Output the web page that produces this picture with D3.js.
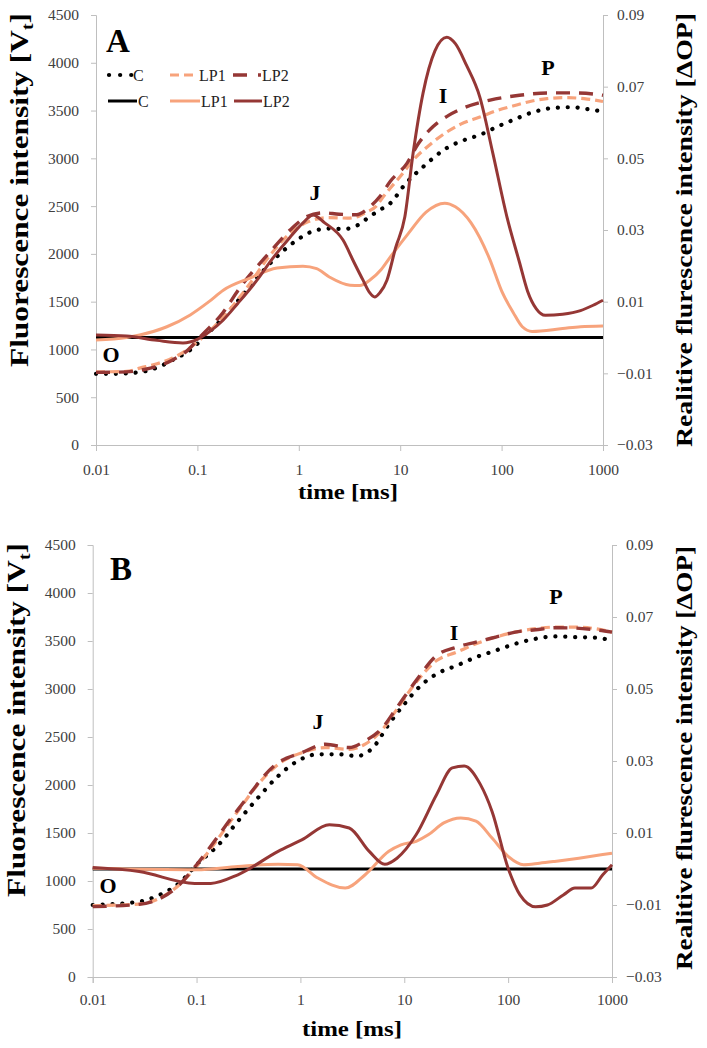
<!DOCTYPE html>
<html>
<head>
<meta charset="utf-8">
<script src="https://cdn.jsdelivr.net/npm/d3@7"></script>
<style>
body { margin: 0; background: #fff; }
svg { display: block; }
text { font-family: "Liberation Serif", "DejaVu Serif", serif; }
</style>
</head>
<body>
<div id="chart"></div>
<script>
// ---- data ----
var xTicks = [0.01, 0.1, 1, 10, 100, 1000];
var xTickLabels = ["0.01", "0.1", "1", "10", "100", "1000"];
var yLeftTicks = [0, 500, 1000, 1500, 2000, 2500, 3000, 3500, 4000, 4500];
var yRightTicks = [-0.03, -0.01, 0.01, 0.03, 0.05, 0.07, 0.09];
var yRightLabels = ["\u22120.03", "\u22120.01", "0.01", "0.03", "0.05", "0.07", "0.09"];

// panel A : fluorescence [time ms, Vt]
var A_C_fl = [[0.01,745],[0.015,745],[0.02,750],[0.03,770],[0.04,810],[0.057,890],[0.085,995],[0.13,1180],[0.21,1410],[0.35,1695],[0.6,1965],[0.96,2145],[1.4,2240],[2,2265],[2.8,2260],[3.8,2300],[5,2390],[6.3,2460],[8,2530],[11,2720],[16.8,2910],[29,3110],[45,3200],[61,3245],[90,3330],[129,3400],[200,3480],[320,3527],[500,3535],[700,3515],[1000,3490]];
var A_LP1_fl = [[0.01,765],[0.02,770],[0.027,805],[0.04,850],[0.057,910],[0.08,1000],[0.106,1100],[0.18,1340],[0.31,1650],[0.52,1985],[0.82,2215],[1.2,2330],[2,2380],[3,2375],[3.7,2385],[4.5,2430],[5.8,2500],[6.5,2570],[8,2690],[10,2810],[13.4,2980],[20,3150],[28.8,3275],[40,3360],[61,3432],[90,3500],[129,3547],[200,3600],[280,3625],[450,3635],[700,3620],[1000,3595]];
var A_LP2_fl = [[0.01,760],[0.02,765],[0.03,790],[0.057,890],[0.08,990],[0.106,1130],[0.18,1390],[0.26,1640],[0.52,2020],[0.82,2250],[1.2,2390],[1.74,2430],[2.5,2415],[3.7,2410],[5,2490],[6.3,2600],[8,2760],[11.7,2950],[15,3150],[21,3330],[30,3450],[42,3527],[77,3610],[150,3660],[280,3684],[500,3685],[930,3665],[1000,3660]];
// panel A : relative fluorescence [time ms, dOP]
var A_C_op = [[0.01,0],[1000,0]];
var A_LP1_op = [[0.01,-0.0007],[0.02,0],[0.027,0.0007],[0.05,0.003],[0.085,0.0063],[0.13,0.010],[0.18,0.0132],[0.33,0.0166],[0.61,0.0194],[1.1,0.0199],[1.5,0.0192],[2,0.0169],[3.2,0.0146],[4,0.0145],[5,0.016],[6.5,0.019],[8,0.0225],[12,0.029],[18,0.035],[27.5,0.0375],[35,0.0365],[50,0.032],[77,0.0216],[100,0.013],[130,0.007],[160,0.003],[200,0.0017],[400,0.0025],[600,0.003],[1000,0.0032]];
var A_LP2_op = [[0.01,0.0007],[0.02,0.0004],[0.04,-0.0008],[0.072,-0.0015],[0.1,-0.0005],[0.13,0.0015],[0.18,0.0049],[0.25,0.0095],[0.387,0.016],[0.55,0.022],[0.82,0.028],[1.1,0.032],[1.38,0.0342],[1.8,0.032],[2.73,0.0272],[3.5,0.021],[4.3,0.016],[5,0.0125],[5.6,0.0113],[6.3,0.0125],[7.4,0.016],[9,0.025],[11.1,0.0336],[13.4,0.0514],[16.8,0.0682],[22,0.08],[28.8,0.0838],[35,0.082],[45,0.076],[61,0.0671],[82,0.0514],[113,0.0336],[150,0.021],[180,0.013],[220,0.008],[270,0.0062],[400,0.0065],[600,0.0075],[800,0.009],[1000,0.0104]];

// panel B : fluorescence
var B_C_fl = [[0.01,750],[0.028,785],[0.044,855],[0.068,977],[0.1,1169],[0.163,1378],[0.25,1622],[0.39,1866],[0.61,2093],[0.94,2250],[1.47,2320],[2.3,2320],[3.5,2302],[5,2390],[7.1,2634],[10,2843],[14.4,3035],[20.5,3157],[32,3244],[49,3331],[76,3401],[117,3471],[184,3523],[285,3548],[440,3541],[690,3534],[1000,3506]];
var B_LP1_fl = [[0.01,743],[0.028,760],[0.068,959],[0.1,1151],[0.25,1727],[0.39,2006],[0.61,2215],[1.03,2337],[1.74,2390],[2.95,2372],[4.2,2425],[6,2564],[8.5,2790],[13,3070],[20.5,3296],[32,3384],[49,3471],[76,3541],[117,3593],[184,3628],[285,3645],[440,3645],[690,3628],[1000,3593]];
var B_LP2_fl = [[0.01,733],[0.028,757],[0.068,959],[0.1,1169],[0.25,1744],[0.61,2233],[1.03,2337],[1.74,2425],[2.95,2390],[4.2,2460],[6,2582],[8.5,2808],[13,3087],[20.5,3349],[32,3436],[49,3488],[76,3541],[117,3593],[184,3617],[285,3638],[440,3635],[690,3617],[1000,3593]];
// panel B : relative fluorescence
var B_C_op = [[0.01,0],[1000,0]];
var B_LP1_op = [[0.01,0.0002],[0.1,-0.0002],[0.25,0.0007],[0.61,0.0013],[0.94,0.0012],[1.47,-0.0025],[2.7,-0.0053],[4.2,-0.0016],[7.1,0.0049],[9.3,0.0067],[13,0.0077],[17,0.0095],[24,0.0128],[35,0.0142],[49,0.0133],[70,0.0086],[100,0.0035],[141,0.0012],[200,0.0016],[280,0.0021],[480,0.003],[815,0.004],[1000,0.0044]];
var B_LP2_op = [[0.01,0.0004],[0.028,-0.0007],[0.096,-0.004],[0.137,-0.004],[0.25,-0.0016],[0.61,0.0049],[1.03,0.0081],[1.9,0.0123],[2.95,0.0114],[4.6,0.0049],[6.5,0.0013],[8.5,0.003],[13,0.0095],[20.5,0.0207],[29,0.0281],[37.8,0.0286],[54,0.0235],[70,0.016],[100,0.0002],[130,-0.0072],[184,-0.0105],[239,-0.01],[340,-0.0072],[440,-0.0053],[630,-0.0053],[815,-0.0016],[1000,0.0012]];

var colC = "#000000", colLP1 = "#F7A37C", colLP2 = "#953735";
var axisCol = "#BFBFBF", tickTextCol = "#404040";

var W = 707, H = 1048;
var svg = d3.select("#chart").append("svg").attr("width", W).attr("height", H);

function drawPanel(p) {
	var x = d3.scaleLog().domain([0.01, 1000]).range([p.left, p.right]);
	var yL = d3.scaleLinear().domain([0, 4500]).range([p.bottom, p.top]);
	var yR = d3.scaleLinear().domain([-0.03, 0.09]).range([p.bottom, p.top]);
	var g = svg.append("g");

	var ax = g.append("g").attr("transform", "translate(0," + p.bottom + ")")
		.call(d3.axisBottom(x).tickValues(xTicks).tickSizeOuter(0).tickSize(6).tickPadding(p.xPad)
			.tickFormat(function(d, i) { return xTickLabels[i]; }));
	var al = g.append("g").attr("transform", "translate(" + p.left + ",0)")
		.call(d3.axisLeft(yL).tickValues(yLeftTicks).tickSizeOuter(0).tickSize(5).tickPadding(p.yPad)
			.tickFormat(d3.format("d")));
	var ar = g.append("g").attr("transform", "translate(" + p.right + ",0)")
		.call(d3.axisRight(yR).tickValues(yRightTicks).tickSizeOuter(0).tickSize(5).tickPadding(9)
			.tickFormat(function(d, i) { return yRightLabels[i]; }));
	[ax, al, ar].forEach(function(a) {
		a.select(".domain").attr("stroke", axisCol);
		a.selectAll(".tick line").attr("stroke", axisCol);
		a.selectAll(".tick text").attr("fill", tickTextCol).style("font-size", "15.5px")
			.style("font-family", "'Liberation Serif', serif");
	});

	var lineL = d3.line().x(function(d) { return x(d[0]); }).y(function(d) { return yL(d[1]); }).curve(d3.curveMonotoneX);
	var lineR = d3.line().x(function(d) { return x(d[0]); }).y(function(d) { return yR(d[1]); }).curve(d3.curveMonotoneX);

	// fluorescence curves (left axis)
	g.append("path").datum(p.cFl).attr("d", lineL).attr("fill", "none").attr("stroke", colC)
		.attr("stroke-width", 4.2).attr("stroke-linecap", "round").attr("stroke-dasharray", "0.1,9.8");
	g.append("path").datum(p.lp1Fl).attr("d", lineL).attr("fill", "none").attr("stroke", colLP1)
		.attr("stroke-width", 3.2).attr("stroke-dasharray", "9,5");
	g.append("path").datum(p.lp2Fl).attr("d", lineL).attr("fill", "none").attr("stroke", colLP2)
		.attr("stroke-width", 3.4).attr("stroke-dasharray", "14,9");
	// relative curves (right axis)
	g.append("path").datum(p.cOp).attr("d", lineR).attr("fill", "none").attr("stroke", colC).attr("stroke-width", 3);
	g.append("path").datum(p.lp1Op).attr("d", lineR).attr("fill", "none").attr("stroke", colLP1).attr("stroke-width", 3);
	g.append("path").datum(p.lp2Op).attr("d", lineR).attr("fill", "none").attr("stroke", colLP2).attr("stroke-width", 3);

	// axis titles
	var lt = g.append("text").attr("transform", "translate(" + p.ltX + "," + p.ltY + ") rotate(-90)")
		.attr("text-anchor", "middle").attr("font-weight", "bold").style("font-size", "25px")
		.attr("textLength", 354).attr("lengthAdjust", "spacingAndGlyphs");
	lt.append("tspan").text("Fluorescence intensity [V");
	lt.append("tspan").text("t").style("font-size", "16px").attr("dy", 5);
	lt.append("tspan").text("]").attr("dy", -5);

	g.append("text").attr("transform", "translate(" + p.rtX + "," + p.rtY + ") rotate(-90)")
		.attr("text-anchor", "middle").attr("font-weight", "bold").style("font-size", "23px")
		.attr("textLength", p.rtLen).attr("lengthAdjust", "spacingAndGlyphs")
		.text("Realitive flurescence intensity [\u0394OP]");

	g.append("text").attr("x", p.xtX).attr("y", p.xtY).attr("text-anchor", "middle")
		.attr("font-weight", "bold").style("font-size", "20px")
		.attr("textLength", 100).attr("lengthAdjust", "spacingAndGlyphs").text("time [ms]");

	// panel letter and OJIP labels
	g.append("text").attr("x", p.letter[0]).attr("y", p.letter[1]).attr("font-weight", "bold")
		.style("font-size", "33px").text(p.name);
	p.marks.forEach(function(m) {
		g.append("text").attr("x", m[1]).attr("y", m[2]).attr("text-anchor", "middle")
			.attr("font-weight", "bold").style("font-size", "22px").text(m[0]);
	});
}

drawPanel({
	name: "A", left: 96, right: 603, top: 15, bottom: 445, xPad: 13, yPad: 12,
	cFl: A_C_fl, lp1Fl: A_LP1_fl, lp2Fl: A_LP2_fl, cOp: A_C_op, lp1Op: A_LP1_op, lp2Op: A_LP2_op,
	ltX: 28, ltY: 190, rtX: 692, rtY: 230, rtLen: 434, xtX: 348, xtY: 499,
	letter: [106, 52],
	marks: [["O", 111, 362], ["J", 315, 200], ["I", 443, 103], ["P", 548, 75]]
});
drawPanel({
	name: "B", left: 92.7, right: 612, top: 545, bottom: 977, xPad: 11, yPad: 12,
	cFl: B_C_fl, lp1Fl: B_LP1_fl, lp2Fl: B_LP2_fl, cOp: B_C_op, lp1Op: B_LP1_op, lp2Op: B_LP2_op,
	ltX: 25, ltY: 720, rtX: 692, rtY: 758, rtLen: 424, xtX: 352, xtY: 1036,
	letter: [110, 580],
	marks: [["O", 108, 893], ["J", 318, 729], ["I", 454, 640], ["P", 556, 604]]
});

// legend for panel A
var legendItems = [
	{'label':'C','color':colC,'dash':'0.1,11','w':4.2,'cap':'round','x':109,'y':75,'len':23},
	{'label':'LP1','color':colLP1,'dash':'9,5','w':3.2,'cap':'butt','x':170,'y':75,'len':28},
	{'label':'LP2','color':colLP2,'dash':'14,11','w':3.4,'cap':'butt','x':233,'y':75,'len':28},
	{'label':'C','color':colC,'dash':null,'w':3,'cap':'butt','x':108,'y':101,'len':29},
	{'label':'LP1','color':colLP1,'dash':null,'w':3,'cap':'butt','x':170,'y':101,'len':30},
	{'label':'LP2','color':colLP2,'dash':null,'w':3,'cap':'butt','x':234,'y':101,'len':28}
];
var legend = svg.selectAll('.legend').data(legendItems).enter().append('g')
	.attr('class', 'legend')
	.attr('transform', function(d) { return 'translate(' + d.x + ',' + d.y + ')'; });
legend.append('line').attr('x1', 0).attr('x2', function(d) { return d.len; }).attr('y1', 0).attr('y2', 0)
	.attr('stroke', function(d) { return d.color; })
	.attr('stroke-width', function(d) { return d.w; })
	.attr('stroke-linecap', function(d) { return d.cap; })
	.attr('stroke-dasharray', function(d) { return d.dash; });
legend.append('text').attr('x', function(d) { return d.len + 1; }).attr('y', 5.5)
	.style('font-size', '16px').attr('fill', '#222').text(function(d) { return d.label; });
</script>
</body>
</html>
